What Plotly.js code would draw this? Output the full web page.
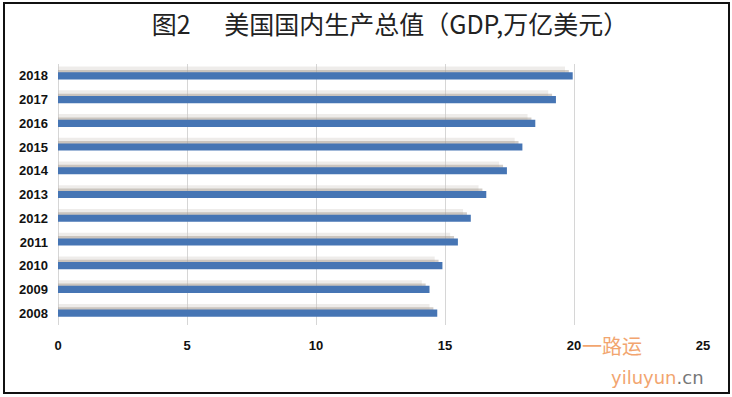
<!DOCTYPE html>
<html>
<head>
<meta charset="utf-8">
<script src="https://cdn.plot.ly/plotly-3.0.1.min.js"></script>
<style>
  html, body { margin: 0; padding: 0; background: #fff; }
  #wrap { position: relative; width: 732px; height: 397px; }
  #chart { width: 732px; height: 397px; }
  #frame { position: absolute; left: 3px; top: 2px; width: 723px; height: 388px; border: 2px solid #111; pointer-events: none; }
</style>
</head>
<body>
<div id="wrap">
  <div id="chart"></div>
  <div id="frame"></div>
</div>
<script>
const years = ['2008','2009','2010','2011','2012','2013','2014','2015','2016','2017','2018'];
const gdp = [14.7, 14.4, 14.9, 15.5, 16.0, 16.6, 17.4, 18.0, 18.5, 19.3, 19.95];
const xTicks = [0, 5, 10, 15, 20, 25];
const titleText = '图2\u00a0\u00a0\u00a0\u00a0\u00a0\u00a0美国国内生产总值（GDP,万亿美元）';

const shadowOuter = {
  type: 'bar', orientation: 'h', y: years, x: gdp.map(v => v - 0.3),
  width: 0.34, offset: 0.05,
  marker: { color: 'rgba(205,200,195,0.35)', line: { width: 0 } },
  hoverinfo: 'skip', showlegend: false
};
const shadowInner = {
  type: 'bar', orientation: 'h', y: years, x: gdp.map(v => v - 0.15),
  width: 0.2, offset: 0.05,
  marker: { color: 'rgba(165,155,145,0.5)', line: { width: 0 } },
  hoverinfo: 'skip', showlegend: false
};
const main = {
  type: 'bar', orientation: 'h', y: years, x: gdp,
  width: 0.3, offset: -0.15,
  marker: { color: '#4675b4', line: { width: 0 } },
  showlegend: false
};

const tickFont = { family: '"Liberation Sans Narrow", "Liberation Sans", Arial, sans-serif', size: 13, color: '#111', weight: 'bold' };

const layout = {
  width: 732, height: 397,
  margin: { l: 58, r: 29, t: 64, b: 72 },
  paper_bgcolor: '#ffffff', plot_bgcolor: '#ffffff',
  barmode: 'overlay',
  title: {
    text: titleText,
    x: 390 / 732, xanchor: 'center', xref: 'container',
    y: 1 - 25 / 397, yanchor: 'middle', yref: 'container',
    font: { family: '"Noto Sans CJK SC", sans-serif', size: 25, color: '#222' }
  },
  xaxis: {
    range: [0, 25], tickvals: xTicks, ticktext: xTicks.map(String),
    showgrid: true, gridcolor: '#d6d6d6', gridwidth: 1,
    zeroline: true, zerolinecolor: '#d6d6d6', zerolinewidth: 1,
    showline: false, ticks: '', ticklabelstandoff: 11,
    tickfont: tickFont,
    fixedrange: true
  },
  yaxis: {
    type: 'category', categoryorder: 'array', categoryarray: years,
    showgrid: false, zeroline: false, showline: false, ticks: '',
    ticklabelstandoff: 9,
    tickfont: tickFont,
    fixedrange: true
  },
  annotations: [
    { text: '一路运', xref: 'paper', yref: 'paper', x: (612 - 58) / 645, y: -0.08,
      xanchor: 'center', yanchor: 'middle', showarrow: false,
      font: { family: '"Noto Sans CJK SC", sans-serif', size: 20, color: '#f2a56f' } },
    { text: '<span style="color:#f2a56f">yiluyun</span><span style="color:#777">.cn</span>',
      xref: 'paper', yref: 'paper', x: 1.005, y: -0.2, xanchor: 'right', yanchor: 'middle',
      showarrow: false, font: { family: '"DejaVu Sans", sans-serif', size: 18, color: '#f2a56f' } }
  ]
};

Plotly.newPlot('chart', [shadowOuter, shadowInner, main], layout, { displayModeBar: false, staticPlot: true });
</script>
</body>
</html>
